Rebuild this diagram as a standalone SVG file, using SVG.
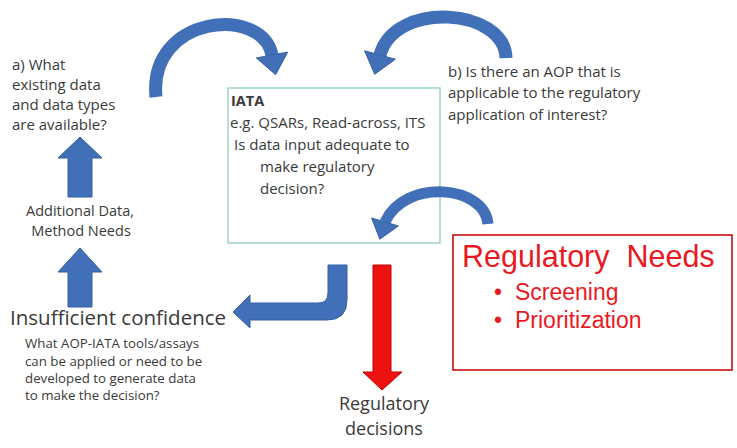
<svg xmlns="http://www.w3.org/2000/svg" width="737" height="448" viewBox="0 0 737 448">
<style>
.t{font-family:"Open Sans","Liberation Sans",sans-serif;fill:#3a3a3a}
.r{font-family:"Liberation Sans",Arial,sans-serif;fill:#e8191f}
.curve{fill:none;stroke:#4170b8;stroke-width:13}
.blue{fill:#4170b8;stroke:#3560a3;stroke-width:1}
.red{fill:#ee1111;stroke:#c00000;stroke-width:1}
</style>
<rect width="737" height="448" fill="#ffffff"/>
<g id="node-iata">
<rect x="228" y="88" width="212" height="155" fill="none" stroke="#9fd3c9" stroke-width="1.5"/>
<text class="t" x="231" y="106" font-size="14.5" font-weight="bold">IATA</text>
<text class="t" x="230" y="128" font-size="15">e.g. QSARs, Read-across, ITS</text>
<text class="t" x="234" y="150" font-size="15">Is data input adequate to</text>
<text class="t" x="260" y="172" font-size="15">make regulatory</text>
<text class="t" x="260" y="194" font-size="15">decision?</text>
</g>
<g id="node-question-a">
<text class="t" x="12" y="70" font-size="15">a) What</text>
<text class="t" x="12" y="90" font-size="15">existing data</text>
<text class="t" x="12" y="110" font-size="15">and data types</text>
<text class="t" x="12" y="130" font-size="15">are available?</text>
</g>
<g id="node-question-b">
<text class="t" x="448" y="77" font-size="15">b) Is there an AOP that is</text>
<text class="t" x="448" y="98" font-size="15">applicable to the regulatory</text>
<text class="t" x="448" y="120" font-size="15">application of interest?</text>
</g>
<g id="node-additional">
<text class="t" x="80" y="216" font-size="14.5" text-anchor="middle">Additional Data,</text>
<text class="t" x="81" y="236" font-size="14.5" text-anchor="middle">Method Needs</text>
</g>
<g id="node-insufficient">
<text class="t" x="10" y="325" font-size="20.5">Insufficient confidence</text>
<text class="t" x="25" y="348" font-size="13.3">What AOP-IATA tools/assays</text>
<text class="t" x="25" y="366" font-size="13.3">can be applied or need to be</text>
<text class="t" x="25" y="383" font-size="13.3">developed to generate data</text>
<text class="t" x="25" y="400" font-size="13.3">to make the decision?</text>
</g>
<g id="node-decisions">
<text class="t" x="384" y="410" font-size="18" text-anchor="middle">Regulatory</text>
<text class="t" x="384" y="435" font-size="18" text-anchor="middle">decisions</text>
</g>
<g id="node-regneeds">
<rect x="453" y="235" width="279" height="135" fill="none" stroke="#c00000" stroke-width="1.5"/>
<text class="r" x="462" y="267" font-size="30.5" xml:space="preserve">Regulatory  Needs</text>
<text class="r" x="494" y="300" font-size="23">•</text>
<text class="r" x="515" y="300" font-size="23">Screening</text>
<text class="r" x="494" y="328" font-size="23">•</text>
<text class="r" x="515" y="328" font-size="23">Prioritization</text>
</g>
<g id="connectors">
<path class="curve" d="M 156 97 C 148 15, 262 5, 272 55"/>
<polygon class="blue" points="287.7,52.1 256.3,57.9 275.6,74.7"/>
<path class="curve" d="M 506 58 C 505 8, 395 0, 380 55"/>
<polygon class="blue" points="395.4,59.2 364.6,50.8 374.7,74.3"/>
<path class="curve" style="stroke-width:11" d="M 488 224 C 485 185, 405 178, 385 222"/>
<polygon class="blue" points="398.4,226 371.6,218 379.8,239.2"/>
<polygon class="blue" points="58,158 80,137 102,158 92,158 92,197 68,197 68,158"/>
<polygon class="blue" points="58,272 80,248 102,272 92,272 92,307 68,307 68,272"/>
<path class="blue" d="M 328 265 H 347 V 300 Q 347 320 327 320 H 250 V 328 L 233 312 L 250 295 V 303 H 318 Q 328 303 328 293 Z"/>
<polygon class="red" points="373,265 391,265 391,372 402,372 382,390 363,372 373,372"/>
</g>
</svg>
